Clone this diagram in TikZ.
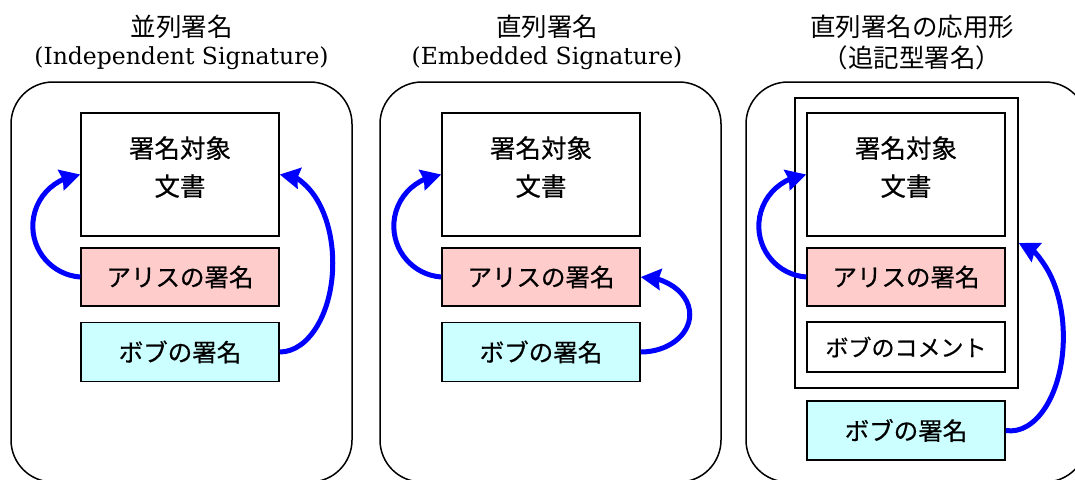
\documentclass[tikz,border=0pt]{standalone}
\usepackage{fontspec}
\newfontfamily\cjk{Noto Sans CJK JP}
\newfontfamily\cjkb{Noto Sans CJK JP}[FakeBold=0.5]
\newfontfamily\latinserif{DejaVu Serif}
\usetikzlibrary{arrows.meta,bending}
\definecolor{alicefill}{RGB}{255,204,204}
\definecolor{bobfill}{RGB}{204,255,255}
\definecolor{arrowblue}{RGB}{0,0,255}
\begin{document}
\begin{tikzpicture}[x=1pt,y=1pt,
  panel/.style={draw, line width=1.5pt, rounded corners=42pt, minimum width=341pt, minimum height=400pt, inner sep=0pt},
  box/.style={draw, line width=1.5pt, minimum width=198pt, inner sep=0pt, font=\cjkb\fontsize{24.5}{38}\selectfont, align=center},
  docbox/.style={box, minimum height=123pt, font=\cjkb\fontsize{25.5}{38}\selectfont, text depth=17pt},
  alicebox/.style={box, fill=alicefill, minimum height=58pt},
  bobbox/.style={box, fill=bobfill, minimum height=59pt},
  frame/.style={draw, line width=1.5pt, minimum width=223pt, minimum height=290pt, inner sep=0pt},
  titlej/.style={font=\cjk\fontsize{25.5}{30}\selectfont, inner sep=0pt},
  titlel/.style={font=\latinserif\fontsize{23.5}{30}\selectfont, inner sep=0pt},
  arr/.style={draw=arrowblue, line width=5pt, -{Stealth[length=20pt,width=21pt,inset=2pt,flex]}}
]
\useasboundingbox (0,0) rectangle (1075,-479);
% panels
\node[panel] (panel1) at (181.5,-282) {};
\node[panel] (panel2) at (550.5,-282) {};
\node[panel] (panel3) at (916.5,-282) {};
% titles
\node[titlej] (t1a) at (181.5,-27) {並列署名};
\node[titlel] (t1b) at (181.5,-58) {(Independent Signature)};
\node[titlej] (t2a) at (547,-27) {直列署名};
\node[titlel] (t2b) at (547,-58) {(Embedded Signature)};
\node[titlej] (t3a) at (912,-27) {直列署名の応用形};
\node[titlej] (t3b) at (912,-58) {（追記型署名）};
% panel 1
\node[docbox] (doc1) at (180,-174.5) {署名対象\\文書};
\node[alicebox] (alice1) at (180,-277) {アリスの署名};
\node[bobbox] (bob1) at (180,-352) {ボブの署名};
% panel 2
\node[docbox] (doc2) at (541,-174.5) {署名対象\\文書};
\node[alicebox] (alice2) at (541,-277) {アリスの署名};
\node[bobbox] (bob2) at (541,-352) {ボブの署名};
% panel 3
\node[frame] (frame3) at (906.5,-243) {};
\node[docbox] (doc3) at (906,-174.5) {署名対象\\文書};
\node[alicebox] (alice3) at (906,-277) {アリスの署名};
\node[box, minimum height=50pt, font=\cjkb\fontsize{23}{30}\selectfont] (comment3) at (906,-347) {ボブのコメント};
\node[bobbox] (bob3) at (906,-430.5) {ボブの署名};
% arrows: an arc from the signing box, ending on the signed box
\draw[arr] (alice1.west) arc[start angle=-94, end angle=-235, radius=51]
  .. controls +(35:9) and +(185:9) .. (doc1.west);
\draw[arr] (bob1.east) arc[start angle=-90, end angle=60, x radius=53, y radius=89]
  .. controls +(136:12) and +(0:13) .. (doc1.east);
\draw[arr] (alice2.west) arc[start angle=-94, end angle=-235, radius=51]
  .. controls +(35:9) and +(185:9) .. (doc2.west);
\draw[arr] (bob2.east) arc[start angle=-90, end angle=55, x radius=49, y radius=37.5]
  .. controls +(152:10) and +(0:12) .. (alice2.east);
\draw[arr] (alice3.west) arc[start angle=-94, end angle=-235, radius=51]
  .. controls +(35:9) and +(185:9) .. (doc3.west);
\draw[arr] (bob3.east) arc[start angle=-95, end angle=50, x radius=53, y radius=94]
  .. controls +(124:14) and +(-17:14) .. (frame3.east);
\end{tikzpicture}
\end{document}
